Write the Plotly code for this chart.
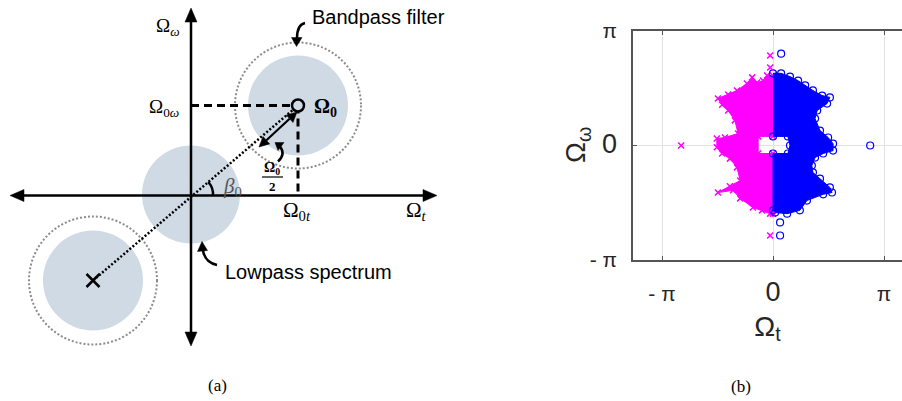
import math
import plotly.graph_objects as go

PI = math.pi

# ---------------- panel (b): scatter of the two spectral halves ----------------
# outline of the dense negative-frequency cloud (x markers)
MAG_EDGE_X = [0, -0.17, -0.28, -0.45, -0.59, -0.74, -1.02, -1.27, -1.56, -1.44, -1.27, -1.08,
              -0.99, -1.36, -1.59, -1.59, -1.44, -1.22, -1.02, -0.93, -1.22, -1.56, -1.13,
              -0.93, -0.57, -0.31, -0.08, 0, 0, -0.42, -0.42, 0]
MAG_EDGE_Y = [1.92, 1.92, 1.78, 1.73, 1.87, 1.70, 1.51, 1.40, 1.29, 1.12, 0.96, 0.69,
              0.33, 0.22, 0.19, -0.05, -0.22, -0.36, -0.60, -0.96, -1.12, -1.29, -1.23,
              -1.45, -1.70, -1.78, -1.87, -1.87, -0.22, -0.22, 0.25, 0.25]
# outline of the dense positive-frequency cloud (o markers)
BLUE_EDGE_X = [0, 0.23, 0.48, 0.71, 0.91, 1.13, 1.39, 1.61, 1.53, 1.25, 1.19, 1.33, 1.56,
               1.70, 1.70, 1.42, 1.19, 1.10, 1.13, 1.33, 1.61, 1.67, 1.42, 0.96, 0.76,
               0.40, 0.06, 0, 0, 0.42, 0.48, 0.42, 0]
BLUE_EDGE_Y = [1.98, 1.98, 1.89, 1.78, 1.65, 1.51, 1.37, 1.32, 1.15, 0.96, 0.74, 0.41, 0.22,
               0.05, -0.14, -0.22, -0.33, -0.55, -0.74, -0.91, -1.15, -1.29, -1.34, -1.51,
               -1.78, -1.87, -1.84, -1.78, -0.22, -0.22, 0, 0.25, 0.25]
# isolated points
MAG_OUT_X = [-0.08, -0.08, -0.08, -2.60]
MAG_OUT_Y = [2.47, 2.14, -2.47, 0.0]
BLUE_OUT_X = [0.23, 0.20, 0.20, 2.75]
BLUE_OUT_Y = [2.52, -2.11, -2.47, 0.0]

TICK_VALS = [-PI, 0, PI]
TICK_TEXT = ["- π", '<span style="font-size:27px">0</span>', "π"]

# ---------------- panel (a): schematic geometry (diagram units) ----------------
OMEGA0 = (107, 90)          # bandpass centre (Ω0t, Ω0ω)
MIRROR = (-98, -85)         # mirrored centre
R_SPEC = 50                 # spectrum radius
R_FILT = 63                 # filter radius

SHADE = "#cfdae5"
W, H = 902, 401
OX, OY = 191, 195.5         # diagram origin inside the page
DW = 451                    # width of the schematic panel

fig = go.Figure()

# dense clouds
fig.add_trace(go.Scatter(
    x=MAG_EDGE_X, y=MAG_EDGE_Y, mode="lines+markers", fill="toself",
    fillcolor="#ff00ff", line=dict(color="#ff00ff", width=1),
    marker=dict(symbol="x-thin-open", size=6, color="#ff00ff", line=dict(color="#ff00ff", width=1.5)),
    xaxis="x", yaxis="y", showlegend=False, hoverinfo="skip"))
fig.add_trace(go.Scatter(
    x=BLUE_EDGE_X, y=BLUE_EDGE_Y, mode="lines+markers", fill="toself",
    fillcolor="#0000ff", line=dict(color="#0000ff", width=1),
    marker=dict(symbol="circle-open", size=7, color="#0000ff", line=dict(width=1.2)),
    xaxis="x", yaxis="y", showlegend=False, hoverinfo="skip"))
fig.add_trace(go.Scatter(
    x=MAG_OUT_X, y=MAG_OUT_Y, mode="markers",
    marker=dict(symbol="x-thin-open", size=6, color="#ff00ff", line=dict(color="#ff00ff", width=1.5)),
    xaxis="x", yaxis="y", showlegend=False))
fig.add_trace(go.Scatter(
    x=BLUE_OUT_X, y=BLUE_OUT_Y, mode="markers",
    marker=dict(symbol="circle-open", size=7, color="#0000ff", line=dict(width=1.2)),
    xaxis="x", yaxis="y", showlegend=False))

# centre markers of the schematic
fig.add_trace(go.Scatter(
    x=[OMEGA0[0]], y=[OMEGA0[1]], mode="markers",
    marker=dict(symbol="circle", size=12, color=SHADE, line=dict(color="black", width=2.5)),
    xaxis="x2", yaxis="y2", showlegend=False))
fig.add_trace(go.Scatter(
    x=[MIRROR[0]], y=[MIRROR[1]], mode="markers",
    marker=dict(symbol="x-thin-open", size=13, color="black", line=dict(color="black", width=2.5)),
    xaxis="x2", yaxis="y2", showlegend=False))

shapes = []


def circ(cx, cy, r, **kw):
    shapes.append(dict(type="circle", xref="x2", yref="y2", x0=cx - r, x1=cx + r,
                       y0=cy - r, y1=cy + r, layer="below", **kw))


def seg(u0, v0, u1, v1, width=2.5, dash="solid", color="black"):
    shapes.append(dict(type="line", xref="x2", yref="y2", x0=u0, y0=v0, x1=u1, y1=v1,
                       layer="below", line=dict(color=color, width=width, dash=dash)))


def path(d, fill=None, width=2.5):
    s = dict(type="path", xref="x2", yref="y2", path=d, layer="below",
             line=dict(color="black", width=width if fill is None else 0.5))
    if fill:
        s["fillcolor"] = fill
    shapes.append(s)


def tri(p):
    path("M {},{} L {},{} L {},{} Z".format(*p[0], *p[1], *p[2]), fill="black")


# shaded spectra and dotted filter outlines
circ(OMEGA0[0], OMEGA0[1], R_SPEC, fillcolor=SHADE, line=dict(width=0))
circ(0, 1, R_SPEC - 1, fillcolor=SHADE, line=dict(width=0))
circ(MIRROR[0], MIRROR[1], R_SPEC, fillcolor=SHADE, line=dict(width=0))
circ(OMEGA0[0], OMEGA0[1], R_FILT, line=dict(color="#8c8c8c", width=2, dash="2px,2px"))
circ(MIRROR[0], MIRROR[1], R_FILT + 1, line=dict(color="#8c8c8c", width=2, dash="2px,2px"))

# coordinate axes with arrowheads
seg(-170, 0, 235, 0, width=2.5)
tri([(-181, 0), (-167, 6), (-167, -6)])
tri([(246, 0), (232, 6), (232, -6)])
seg(0, -139, 0, 176, width=2.5)
tri([(0, 187.5), (-6, 173.5), (6, 173.5)])
tri([(0, -150.5), (-6, -136.5), (6, -136.5)])

# projections of the bandpass centre
seg(0, OMEGA0[1], OMEGA0[0], OMEGA0[1], width=3, dash="8px,5px")
seg(OMEGA0[0], OMEGA0[1], OMEGA0[0], 0, width=3, dash="8px,5px")

# line through the mirrored centre, origin and bandpass centre
seg(MIRROR[0], MIRROR[1], OMEGA0[0], OMEGA0[1], width=2.5, dash="2px,2px")

# radius arrow (double headed)
seg(75.4, 55.3, 98.6, 76.7, width=2.2)
tri([(68, 48.5), (78.7, 51.6), (72.0, 59.0)])
tri([(106, 83.5), (102.0, 73.0), (95.3, 80.4)])

# angle arc
path("M 22,0 Q 22.5,7.6 17.3,13.5", width=2.5)

# curved pointers
path("M 87,34 Q 95,41 89,49", width=2.5)
tri([(84, 53), (93, 53), (87, 45)])
path("M 114,172.5 Q 106,171 106,157", width=2.5)
tri([(105.5, 149), (100.5, 158), (111, 158)])
path("M 26,-69.5 Q 14,-67 12,-55", width=2.5)
tri([(11, -46), (6.5, -56), (16.5, -55)])

# fraction bar of Ω0/2
seg(71, 18.5, 92, 18.5, width=1.2)

fig.update_layout(shapes=shapes)

SERIF = "Liberation Serif"
SANS = "Liberation Sans"
ann = []


def txt(u, v, s, size=19, xanchor="center", color="black", family=SERIF):
    ann.append(dict(x=u, y=v, xref="x2", yref="y2", text=s, showarrow=False,
                    xanchor=xanchor, yanchor="middle",
                    font=dict(family=family, size=size, color=color)))


txt(-23, 168.5, "Ω<sub><i>ω</i></sub>")
txt(-10, 87.5, "Ω<sub>0<i>ω</i></sub>", xanchor="right")
txt(121, 88.5, "<b>Ω<sub>0</sub></b>", size=20, xanchor="left")
txt(119, 178.5, "Bandpass filter", size=20, xanchor="left", family=SANS)
txt(32, -76.5, "Lowpass spectrum", size=20, xanchor="left", family=SANS)
txt(106, -15, "Ω<sub>0<i>t</i></sub>", size=21)
txt(225, -15, "Ω<sub><i>t</i></sub>", size=21)
txt(41, 8.5, "<i>β</i><sub>0</sub>", size=21, color="#555555")
txt(81, 27, "<b>Ω<sub>0</sub></b>", size=14)
txt(81, 9, "<b>2</b>", size=13)

for s, px, py in [("(a)", 217, 385), ("(b)", 741, 386)]:
    ann.append(dict(x=px / W, y=1 - py / H, xref="paper", yref="paper", text=s,
                    showarrow=False, xanchor="center", yanchor="middle",
                    font=dict(family=SERIF, size=17, color="black")))

# y-axis label
ann.append(dict(x=577 / W, y=1 - 145 / H, xref="paper", yref="paper",
                text="Ω<sub>ω</sub>", textangle=-90, showarrow=False,
                xanchor="center", yanchor="middle",
                font=dict(family=SANS, size=28, color="#262626")))

fig.update_layout(annotations=ann)

AX_COL = "#555555"
fig.update_layout(
    width=W, height=H, margin=dict(l=0, r=0, t=0, b=0, autoexpand=False),
    paper_bgcolor="white", plot_bgcolor="rgba(0,0,0,0)",
    xaxis=dict(domain=[633 / W, 1], range=[-3.963, 3.651], anchor="y",
               tickvals=TICK_VALS, ticktext=TICK_TEXT, ticks="inside", ticklen=4,
               tickcolor=AX_COL, showline=True, linecolor=AX_COL, linewidth=1.5,
               mirror="ticks", showgrid=True, gridcolor="#e2e2e2", gridwidth=1,
               zeroline=False, automargin=False, ticklabelstandoff=14,
               tickfont=dict(family=SANS, size=21, color="#262626"),
               title=dict(text="Ω<sub>t</sub>", standoff=10,
                          font=dict(family=SANS, size=28, color="#262626"))),
    yaxis=dict(domain=[1 - 260 / H, 1 - 31 / H], range=[-PI, PI], anchor="x",
               tickvals=TICK_VALS, ticktext=TICK_TEXT, ticks="inside", ticklen=4,
               tickcolor=AX_COL, showline=True, linecolor=AX_COL, linewidth=1.5,
               mirror=False, showgrid=True, gridcolor="#e2e2e2", gridwidth=1,
               zeroline=False, automargin=False, ticklabelstandoff=10,
               tickfont=dict(family=SANS, size=21, color="#262626")),
    xaxis2=dict(domain=[0, DW / W], range=[-OX, DW - OX], anchor="y2", visible=False,
                fixedrange=True),
    yaxis2=dict(domain=[0, 1], range=[OY - H, OY], anchor="x2", visible=False,
                fixedrange=True),
)

fig.write_html("out.html")
